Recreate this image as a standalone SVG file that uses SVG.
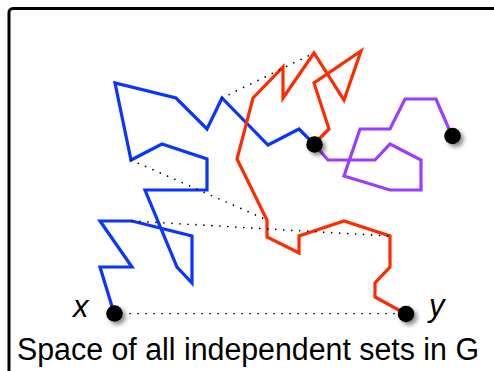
<svg xmlns="http://www.w3.org/2000/svg" width="494" height="371" viewBox="0 0 494 371">
  <style>
    .frame { fill: none; stroke: #000; stroke-width: 3; }
    .walk { fill: none; stroke-width: 3.2; stroke-linejoin: miter; stroke-linecap: butt; }
    .blue { stroke: #0a34ff; }
    .red { stroke: #ff2a00; }
    .purple { stroke: #9a3dff; }
    .dots { fill: none; stroke: #000; stroke-width: 1.7; stroke-linecap: round; stroke-dasharray: 0 8; }
    .vertex { fill: #000; filter: url(#shadow); }
    .label { font-family: "Liberation Sans", Arial, Helvetica, sans-serif; font-size: 31px; fill: #000; }
    .var { font-style: italic; }
  </style>
  <defs>
    <filter id="shadow" x="-60%" y="-60%" width="220%" height="220%">
      <feDropShadow dx="3" dy="3" stdDeviation="2" flood-color="#000" flood-opacity="0.45"/>
    </filter>
  </defs>

  <rect width="494" height="371" fill="#fff"/>
  <!-- outer frame, open to the right and bottom -->
  <rect class="frame" x="9" y="8.5" width="520" height="420" rx="4"/>

  <g id="connectors">
    <!-- walk from x to the middle vertex -->
    <polyline class="walk blue" points="114,313 100,267 132,267 100,221 132,221 192,236 192,283 177,267 145,190 207,190 207,159 162,144 131,160 115,83 176,98 207,129 222,98 268,145 299,129 314,144"/>
    <!-- walk from the middle vertex to y -->
    <polyline class="walk red" points="314,144 329,129 314,83 361,51 344,100 314,53 283,98 283,67 253,98 237,159 267,220 267,237 299,253 299,236 344,221 390,236 390,267 375,283 375,297 406,314"/>
    <!-- branch from the middle vertex -->
    <polyline class="walk purple" points="314,144 328,160 375,160 390,144 421,160 421,190 390,190 344,176 360,129 390,129 405,99 436,99 452,136"/>
    <!-- shortcuts -->
    <line class="dots" x1="222" y1="98" x2="314" y2="53"/>
    <line class="dots" x1="131" y1="160" x2="267" y2="220"/>
    <line class="dots" x1="132" y1="221" x2="390" y2="236"/>
    <line class="dots" x1="122" y1="313.5" x2="398" y2="313.5"/>
  </g>

  <g id="node-x">
    <circle class="vertex" cx="114.5" cy="313.5" r="8.3"/>
    <text class="label var" x="73" y="317">x</text>
  </g>
  <g id="node-mid">
    <circle class="vertex" cx="314.5" cy="144.5" r="8.3"/>
  </g>
  <g id="node-end">
    <circle class="vertex" cx="452.5" cy="136" r="8.3"/>
  </g>
  <g id="node-y">
    <circle class="vertex" cx="406" cy="314" r="8.3"/>
    <text class="label var" x="429" y="316">y</text>
  </g>

  <text class="label" x="17" y="360" textLength="462" lengthAdjust="spacingAndGlyphs">Space of all independent sets in G</text>
</svg>
